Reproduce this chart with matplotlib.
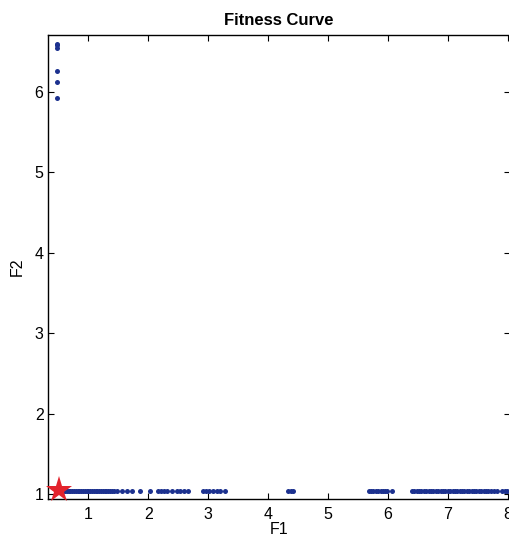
import matplotlib
matplotlib.use("Agg")
import matplotlib.pyplot as plt

plt.rcParams['font.family'] = ['Liberation Sans', 'DejaVu Sans']

# Pareto front samples (F1, F2)
front_f1_low = [0.58, 0.61, 0.64, 0.67, 0.70, 0.73, 0.76, 0.79, 0.82, 0.85,
                0.88, 0.91, 0.94, 0.97, 1.00, 1.03, 1.06, 1.09, 1.12, 1.15,
                1.18, 1.21, 1.24, 1.27, 1.30, 1.33, 1.36, 1.39, 1.42, 1.47,
                1.56, 1.64, 1.73, 1.86, 2.03, 2.17, 2.22, 2.27, 2.32, 2.39,
                2.48, 2.53, 2.59, 2.67, 2.92, 2.97, 3.02, 3.08, 3.14, 3.20,
                3.28]
front_f1_high = [4.34, 4.38, 4.41, 5.68, 5.72, 5.76, 5.80, 5.84, 5.88, 5.92,
                 5.96, 5.99, 6.07, 6.40, 6.44, 6.48, 6.52, 6.56, 6.60, 6.64,
                 6.68, 6.72, 6.76, 6.80, 6.84, 6.88, 6.92, 6.96, 7.00, 7.04,
                 7.08, 7.12, 7.16, 7.20, 7.24, 7.28, 7.32, 7.36, 7.40, 7.44,
                 7.48, 7.52, 7.56, 7.60, 7.64, 7.68, 7.72, 7.77, 7.82, 7.91,
                 7.95, 7.99]
front_f2_flat = 1.04

upper_f1 = [0.48, 0.48, 0.48, 0.48, 0.48, 0.48]
upper_f2 = [6.60, 6.58, 6.55, 6.26, 6.13, 5.92]

best_f1 = 0.51
best_f2 = 1.05

x_ticks = [1, 2, 3, 4, 5, 6, 7, 8]
y_ticks = [1, 2, 3, 4, 5, 6]

fig = plt.figure(figsize=(5.10, 5.38), dpi=100)
ax = fig.add_axes([0.0935, 0.072, 0.9065, 0.863])

flat_f1 = front_f1_low + front_f1_high
ax.plot(flat_f1, [front_f2_flat] * len(flat_f1), 'o', color='#1c318f',
        markersize=3.6, markeredgewidth=0, linestyle='none')
ax.plot(upper_f1, upper_f2, 'o', color='#1c318f',
        markersize=3.6, markeredgewidth=0, linestyle='none')
ax.plot([best_f1], [best_f2], '*', color='#e3232c', markersize=20,
        markeredgewidth=0, clip_on=False, zorder=5)

ax.set_xlim(0.32, 8.04)
ax.set_ylim(0.935, 6.71)
ax.set_xticks(x_ticks)
ax.set_yticks(y_ticks)
ax.tick_params(direction='in', length=4, width=0.8, labelsize=11.5,
               top=True, right=True)
ax.tick_params(axis='x', pad=5.5)
ax.tick_params(axis='y', pad=3)
for s in ax.spines.values():
    s.set_linewidth(1.0)

ax.set_xlabel('F1', fontsize=11.5, labelpad=0)
ax.set_ylabel('F2', fontsize=11.5, labelpad=7)
ax.set_title('Fitness Curve', fontsize=12, fontweight='bold', pad=7)

fig.savefig('out.png', dpi=100)
